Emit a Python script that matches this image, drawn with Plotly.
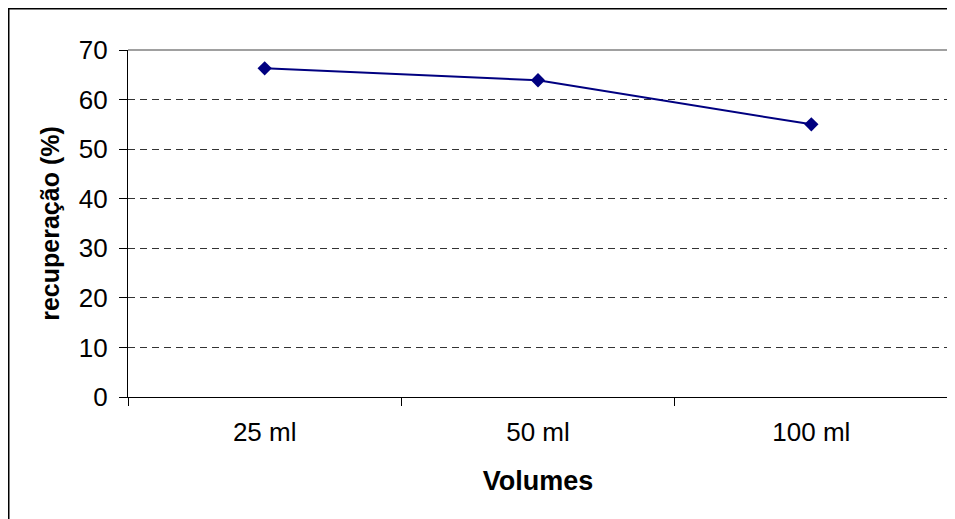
import plotly.graph_objects as go

categories = ["25 ml", "50 ml", "100 ml"]
recuperacao = [66.3, 63.9, 55.0]
y_ticks = [0, 10, 20, 30, 40, 50, 60, 70]

# page body has an 8px margin, so the figure starts at (8, 8) in the window
OFF = 8
W, H = 955 - OFF, 519 - OFF
L, R, T, B = 128 - OFF, 7, 50 - OFF, 122
pw, ph = W - L - R, H - T - B

def px_x(p):
    return (p - L) / pw

def px_y(p):
    return (H - B - p) / ph

FONT = "Liberation Sans, Arial, sans-serif"

fig = go.Figure()
fig.add_trace(go.Scatter(
    x=categories, y=recuperacao, mode="lines+markers",
    line=dict(color="#000080", width=2),
    marker=dict(symbol="diamond", size=11, color="#000080"),
    showlegend=False,
))

fig.update_layout(
    width=W, height=H,
    margin=dict(l=L, r=R, t=T, b=B, pad=0),
    paper_bgcolor="white", plot_bgcolor="white",
    font=dict(family=FONT, color="black", size=26),
    xaxis=dict(
        type="category", range=[-0.5, 2.5], tickson="boundaries",
        ticks="outside", ticklen=8, tickcolor="black", tickwidth=1,
        showline=True, linecolor="black", linewidth=1.2,
        showgrid=False, zeroline=False,
        tickfont=dict(size=26), ticklabelstandoff=12,
        title=dict(text="<b>Volumes</b>", font=dict(size=27), standoff=24),
    ),
    yaxis=dict(
        range=[0, 70], tickvals=y_ticks,
        ticks="outside", ticklen=8, tickcolor="black", tickwidth=1,
        showline=True, linecolor="black", linewidth=1.2,
        showgrid=True, gridcolor="#333333", gridwidth=1, griddash="7px,5px",
        zeroline=False,
        tickfont=dict(size=26), ticklabelstandoff=6,
        title=dict(text="<b>recuperação (%)</b>", font=dict(size=25), standoff=12),
    ),
    shapes=[
        dict(type="line", xref="paper", yref="paper", x0=0, x1=1, y0=1, y1=1,
             line=dict(color="#808080", width=1.5), layer="above"),
        dict(type="line", xref="paper", yref="paper", x0=1, x1=1, y0=0, y1=1,
             line=dict(color="#808080", width=1.5), layer="above"),
        dict(type="rect", xref="paper", yref="paper",
             x0=px_x(0.75), x1=px_x(W + 20), y0=px_y(0.75), y1=px_y(H + 20),
             line=dict(color="black", width=1.5), layer="above"),
    ],
)

fig.write_html("out.html")
